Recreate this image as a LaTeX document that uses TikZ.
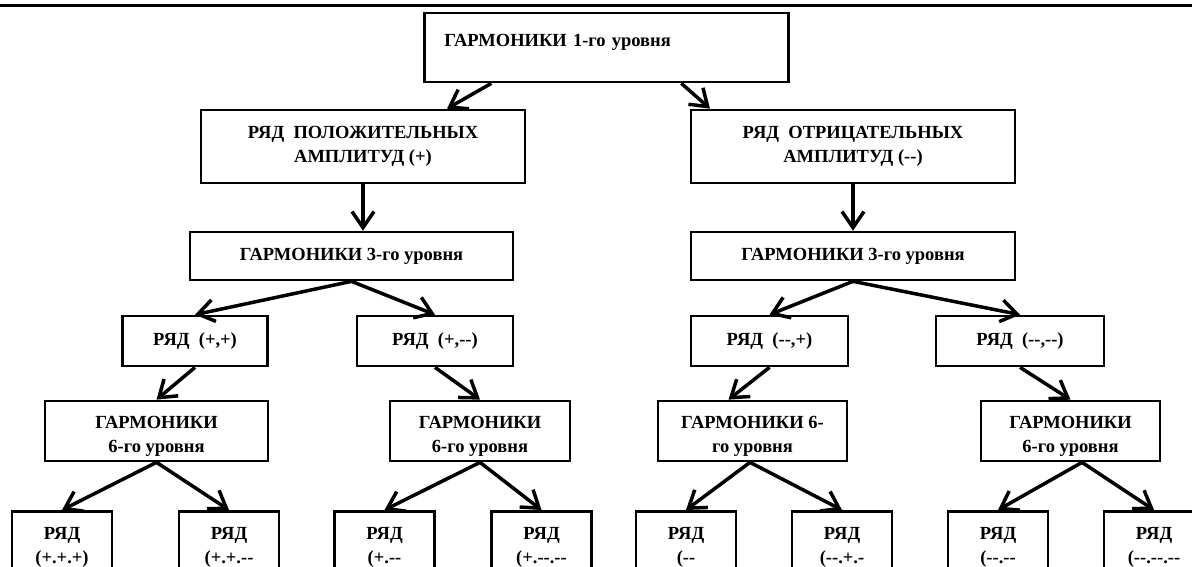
\documentclass[tikz,border=0pt]{standalone}
\usepackage{fontspec}
\setmainfont{Liberation Serif}
\usepackage{tikz}
\usetikzlibrary{arrows.meta}
\newcommand{\mns}{-\kern0pt-}

\begin{document}
\begin{tikzpicture}[x=1pt, y=-1pt,
box/.style = {draw, line width=2.7pt, inner sep=0pt, align=center,
              font=\bfseries\fontsize{18.5}{23.5}\selectfont},
sixth/.style = {box, text height=51pt, text depth=9pt},
every edge/.style = {draw, -{Straight Barb[length=16pt,width=22pt]},
                     line width=3.5pt}
                    ]
\useasboundingbox (0,0) rectangle (1192,566);
\clip (0,0) rectangle (1192,566);
\draw[line width=3pt] (0,5) -- (1192,5);
% first level
\node[box, anchor=base west, text width=324pt, align=left, inner xsep=20pt,
      text height=33pt, text depth=36pt] (g1) at (423,46) {ГАРМОНИКИ 1-го уровня};
% series (+) and (--)
\node[box, minimum width=324pt, minimum height=73pt] (p) at (363,146.5)
    {РЯД\ \ ПОЛОЖИТЕЛЬНЫХ\\АМПЛИТУД (+)};
\node[box, minimum width=324pt, minimum height=73pt] (n) at (853,146.5)
    {РЯД\ \ ОТРИЦАТЕЛЬНЫХ\\АМПЛИТУД (\mns)};
% third level
\node[box, minimum width=323pt, minimum height=48pt] (gp) at (351.5,256) {ГАРМОНИКИ 3-го уровня};
\node[box, minimum width=324pt, minimum height=48pt] (gn) at (853,256) {ГАРМОНИКИ 3-го уровня};
% pairs
\node[box, minimum width=145pt, minimum height=50pt] (pp) at (195,341) {РЯД\ \ (+,+)};
\node[box, minimum width=156pt, minimum height=50pt] (pn) at (435,341) {РЯД\ \ (+,\mns)};
\node[box, minimum width=157pt, minimum height=50pt] (np) at (769.5,341) {РЯД\ \ (\mns,+)};
\node[box, minimum width=168pt, minimum height=50pt] (nn) at (1020,341) {РЯД\ \ (\mns,\mns)};
% sixth level
\node[sixth, minimum width=223pt] (gpp) at (156.5,431) {ГАРМОНИКИ\\6-го уровня};
\node[sixth, minimum width=180pt] (gpn) at (480,431) {ГАРМОНИКИ\\6-го уровня};
\node[sixth, minimum width=189pt] (gnp) at (752.5,431) {ГАРМОНИКИ 6-\\го уровня};
\node[sixth, minimum width=179pt] (gnn) at (1070.5,431) {ГАРМОНИКИ\\6-го уровня};
% triples
\foreach \i/\x/\t in {1/62/{(+.+.+)}, 2/229/{(+.+.\mns}, 3/384.5/{(+.\mns}, 4/541.5/{(+.\mns.\mns},
                      5/686/{(\mns}, 6/842/{(\mns.+.-}, 7/998/{(\mns.\mns}, 8/1154/{(\mns.\mns.\mns}}
    \node[box, anchor=north, minimum width=100pt, text height=52pt, text depth=37pt]
        (r\i) at (\x,510) {РЯД\\\t};
%
\path ([xshift=-115pt]g1.south) edge ([xshift=84pt]p.north)
      ([xshift=75pt]g1.south) edge ([xshift=-143pt]n.north)
      (p.south) edge (p.south |- gp.north)
      (n.south) edge (gn.north)
      (gp.south) edge (pp.north) edge (pn.north)
      (gn.south) edge (np.north) edge (nn.north)
      (pp.south) edge (gpp.north)
      (pn.south) edge (gpn.north)
      (np.south) edge ([xshift=-24pt]gnp.north)
      (nn.south) edge (gnn.north)
      (gpp.south) edge (r1.north) edge (r2.north)
      (gpn.south) edge (r3.north) edge (r4.north)
      ([xshift=-2.5pt]gnp.south) edge (r5.north) edge (r6.north)
      ([xshift=11.5pt]gnn.south) edge (r7.north) edge (r8.north);
\end{tikzpicture}
\end{document}
